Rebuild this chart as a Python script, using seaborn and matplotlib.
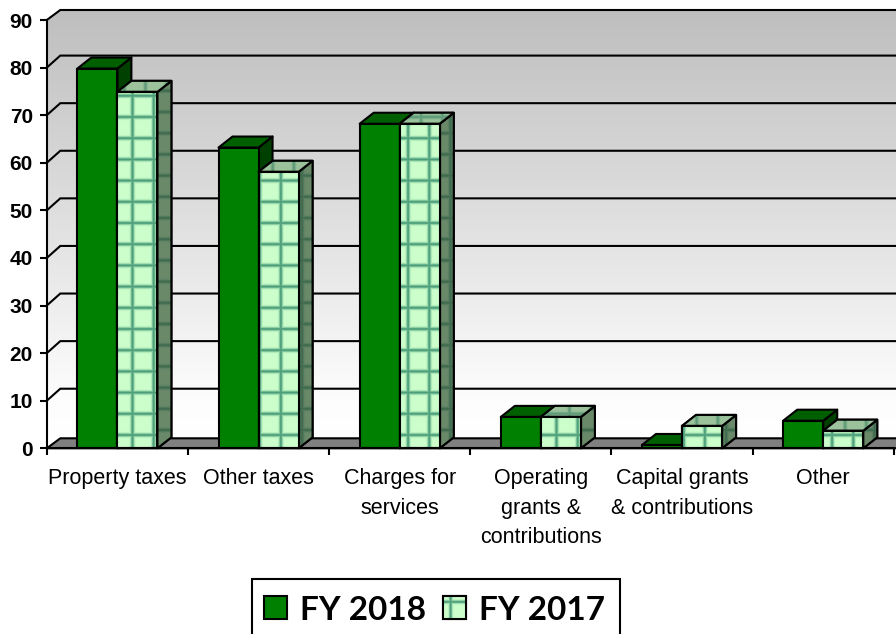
import numpy as np
import pandas as pd
import matplotlib
matplotlib.use("Agg")
import matplotlib.pyplot as plt
from matplotlib.patches import Polygon
from matplotlib.transforms import IdentityTransform
import seaborn as sns

categories = ["Property taxes", "Other taxes", "Charges for\nservices",
              "Operating\ngrants &\ncontributions",
              "Capital grants\n& contributions", "Other"]
fy2018 = [79.8, 63.2, 68.2, 6.6, 0.7, 5.8]
fy2017 = [74.9, 58.1, 68.2, 6.6, 4.7, 3.7]
series_names = ["FY 2018", "FY 2017"]
y_ticks = list(range(0, 100, 10))

W, H = 896, 634
GREEN, GREEN_TOP, GREEN_SIDE = "#008000", "#006000", "#004000"
PALE, PALE_TOP, PALE_SIDE = "#CCFFCC", "#9CC39C", "#6A8A6A"

sns.set_theme(style="white")
plt.rcParams["font.family"] = ["Liberation Sans", "DejaVu Sans"]

fig = plt.figure(figsize=(W / 100, H / 100), dpi=100)
ax = fig.add_axes([46.8 / W, 1 - 448.3 / H, 847 / W, 428.3 / H])

frame = pd.DataFrame({
    "category": categories * 2,
    "value": fy2018 + fy2017,
    "series": [series_names[0]] * 6 + [series_names[1]] * 6,
})
sns.barplot(data=frame, x="category", y="value", hue="series", order=categories,
            hue_order=series_names, palette=[GREEN, PALE], width=0.567, gap=0,
            saturation=1, edgecolor="black", linewidth=1.5, ax=ax, legend=True)

ax.set_xlim(-0.5, 5.5)
ax.set_ylim(0, 90)
fig.canvas.draw()

# pixel-to-data factors for the oblique depth of the pseudo-3D faces
px_x = 6 / 847
px_y = 90 / 428.3


def plaid(base, line, dx=0.0, dy=0.0, period=21.2, soft=1.8):
    """Full-figure RGB texture with a soft grid of lines over a base colour."""
    base = np.array(matplotlib.colors.to_rgb(base))
    line = np.array(matplotlib.colors.to_rgb(line))
    ys, xs = np.mgrid[0:H, 0:W]
    dist_x = np.abs((xs - 132 - dx + period / 2) % period - period / 2)
    dist_y = np.abs((ys - 116.5 - dy + period / 2) % period - period / 2)
    k = np.maximum(np.exp(-(dist_x / soft) ** 2), np.exp(-(dist_y / soft) ** 2))
    return base + (line - base) * k[..., None]


def textured(img, clip, z):
    im = ax.imshow(img, extent=(0, W, 0, H), origin="upper", transform=IdentityTransform(),
                   aspect="auto", interpolation="nearest", zorder=z)
    im.set_clip_box(fig.bbox)
    im.set_clip_path(clip)
    return im


def face(points, color, z, texture=None):
    poly = Polygon(points, closed=True, facecolor=color, edgecolor="black",
                   linewidth=1.5, zorder=z, clip_on=False, joinstyle="round")
    ax.add_patch(poly)
    if texture is not None:
        textured(texture, poly, z + 0.001)
        ax.add_patch(Polygon(points, closed=True, fill=False, edgecolor="black",
                             linewidth=1.5, zorder=z + 0.002, clip_on=False))


# back and left walls with a vertical grey-to-white gradient
wall_dx, wall_dy = 13.5 * px_x, 10 * px_y
wall_pts = [(-0.5, 0), (-0.5 + wall_dx, wall_dy), (6.0, wall_dy), (6.0, 90 + wall_dy),
            (-0.5 + wall_dx, 90 + wall_dy), (-0.5, 90)]
wall = Polygon(wall_pts, closed=True, facecolor="none", edgecolor="none", clip_on=False, zorder=0.5)
ax.add_patch(wall)
shade = np.interp(np.arange(H), [10, 400, 438], [0xBE / 255, 0xFD / 255, 1.0])
gradient = np.dstack([np.repeat(shade[:, None], W, axis=1)] * 3)
textured(gradient, wall, 0.6)

# grid lines run along the wall and fold down the left side to each tick
for v in y_ticks[1:]:
    lift = (12 if v < 90 else 10) * px_y
    ax.plot([-0.5, -0.5 + wall_dx, 6.0], [v, v + lift, v + lift], color="black", lw=1.5,
            zorder=1, clip_on=False, solid_joinstyle="miter")

# floor
floor_pts = [(-0.5, 0), (-0.5 + wall_dx, wall_dy), (6.0, wall_dy), (6.0, 0)]
ax.add_patch(Polygon(floor_pts, closed=True, facecolor="#808080", edgecolor="black",
                     linewidth=1.5, zorder=1.2, clip_on=False))

# depth faces for the bars that seaborn drew, plus the plaid on the pale series
bar_dx, bar_dy = 14 * px_x, 11 * px_y
bars = [p for p in ax.patches if isinstance(p, matplotlib.patches.Rectangle)]
pale_front = plaid(PALE, "#4C9F7A")
pale_top = plaid(PALE_TOP, "#5E9A78", dx=13)
pale_side = plaid(PALE_SIDE, "#3F6B4F", dy=-5)
for idx, bar in enumerate(bars[:12]):
    x0, w, h = bar.get_x(), bar.get_width(), bar.get_height()
    x1 = x0 + w
    second = idx >= 6
    base_z = 3.2 if second else 3.0
    top = [(x0, h), (x0 + bar_dx, h + bar_dy), (x1 + bar_dx, h + bar_dy), (x1, h)]
    side = [(x1, 0), (x1 + bar_dx, bar_dy), (x1 + bar_dx, h + bar_dy), (x1, h)]
    face(side, GREEN_SIDE if not second else PALE_SIDE, base_z, pale_side if second else None)
    face(top, GREEN_TOP if not second else PALE_TOP, base_z + 0.01, pale_top if second else None)
    bar.set_zorder(base_z + 0.05)
    if second:
        front = [(x0, 0), (x0, h), (x1, h), (x1, 0)]
        face(front, PALE, base_z + 0.05, pale_front)

# axes, ticks and labels
sns.despine(ax=ax, top=True, right=True)
for name in ("left", "bottom"):
    ax.spines[name].set_linewidth(1.5)
    ax.spines[name].set_color("black")
    ax.spines[name].set_zorder(5)
ax.set_yticks(y_ticks)
ax.set_xticks(range(6))
ax.set_xticklabels(categories, fontsize=15.5, linespacing=1.53, color="black")
ax.set_xticks(np.arange(-0.5, 5.6, 1), minor=True)
ax.tick_params(axis="x", which="major", length=0, pad=14.5)
ax.tick_params(axis="x", which="minor", length=5, width=1.5, color="black", bottom=True)
ax.tick_params(axis="y", length=5, width=1.5, color="black", pad=5, left=True)
for lab in ax.get_yticklabels():
    lab.set_fontsize(15)
    lab.set_fontweight("bold")
    lab.set_color("black")
ax.set_xlabel("")
ax.set_ylabel("")
ax.patch.set_visible(False)

# legend sits in a white box that runs off the lower edge of the figure
fig.add_artist(plt.Rectangle((252, H - 640), 368, 61, transform=IdentityTransform(),
                             facecolor="white", edgecolor="black", linewidth=1.5,
                             zorder=-1, clip_on=False))
handles, labels = ax.get_legend_handles_labels()
legend = ax.legend(handles, labels, ncols=2, loc="center", bbox_to_anchor=(434.5 / W, 1 - 610 / H),
                   bbox_transform=fig.transFigure, frameon=False, borderaxespad=0, borderpad=0,
                   handlelength=0.68, handleheight=0.68, handletextpad=0.39, columnspacing=0.52,
                   prop={"family": "Lato", "weight": "bold", "size": 24})
legend.set_zorder(6)
for t in legend.get_texts():
    t.set_color("black")
for h in legend.legend_handles:
    h.set_edgecolor("black")
    h.set_linewidth(1.5)

fig.canvas.draw()
key = legend.legend_handles[1]
box = key.get_window_extent()
key_img = plaid(PALE, "#4C9F7A", dx=box.x0 + 7 - 132, dy=(H - box.y1) + 5 - 116.5, period=60, soft=1.6)
key_im = fig.figimage(key_img, zorder=7, origin="upper")
key_im.set_clip_box(box)
fig.add_artist(plt.Rectangle((box.x0, box.y0), box.width, box.height, transform=IdentityTransform(),
                             fill=False, edgecolor="black", linewidth=1.5, zorder=8))

fig.savefig("out.png", dpi=100)
